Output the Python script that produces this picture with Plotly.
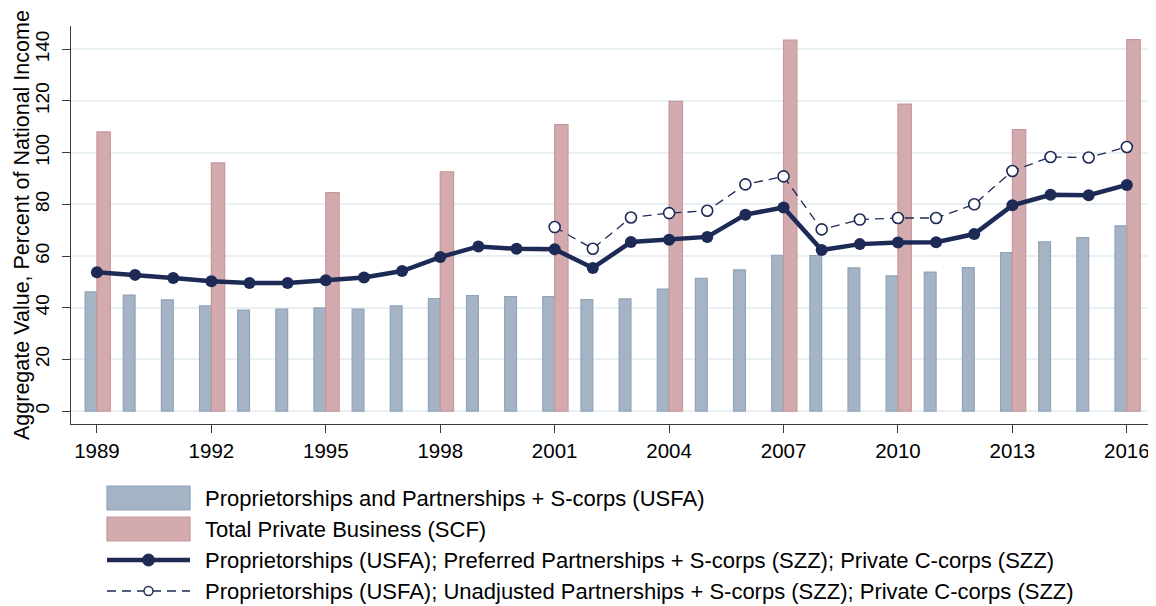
import plotly.graph_objects as go

# ---------------- data ----------------
years = list(range(1989, 2017))
usfa_values = [46.1, 44.9, 43.0, 40.7, 39.1, 39.5, 39.9, 39.5, 40.7, 43.5,
               44.7, 44.3, 44.3, 43.1, 43.4, 47.2, 51.4, 54.6, 60.3, 60.2,
               55.4, 52.3, 53.8, 55.5, 61.3, 65.5, 67.1, 71.7]
scf_years = [1989, 1992, 1995, 1998, 2001, 2004, 2007, 2010, 2013, 2016]
scf_values = [108.0, 96.0, 84.5, 92.6, 110.8, 119.8, 143.5, 118.8, 108.9, 143.7]
preferred_values = [53.7, 52.7, 51.5, 50.2, 49.6, 49.6, 50.6, 51.7, 54.2, 59.6,
                    63.7, 62.8, 62.6, 55.4, 65.4, 66.3, 67.4, 76.0, 78.8, 62.3,
                    64.6, 65.2, 65.3, 68.5, 79.6, 83.7, 83.5, 87.5]
unadj_years = list(range(2001, 2017))
unadj_values = [71.2, 62.8, 74.9, 76.6, 77.5, 87.7, 90.8, 70.3, 74.1, 74.7,
                74.7, 80.0, 92.9, 98.3, 98.1, 102.2]

x_tick_labels = [1989, 1992, 1995, 1998, 2001, 2004, 2007, 2010, 2013, 2016]
y_tick_labels = [0, 20, 40, 60, 80, 100, 120, 140]

legend_labels = [
    "Proprietorships and Partnerships + S-corps (USFA)",
    "Total Private Business (SCF)",
    "Proprietorships (USFA); Preferred Partnerships + S-corps (SZZ); Private C-corps (SZZ)",
    "Proprietorships (USFA); Unadjusted Partnerships + S-corps (SZZ); Private C-corps (SZZ)",
]

# ---------------- style ----------------
FONT = "Liberation Sans, Arial, Helvetica, sans-serif"
BLUE_FILL = "#a4b4c5"
BLUE_LINE = "#8fa3b9"
PINK_FILL = "#d3abaf"
PINK_LINE = "#c7959a"
NAVY = "#1c2a55"
AXIS = "#3a3a3a"
GRID = "#e9f0f3"

OFF = 8  # page body margin of the html
PAGE_W, PAGE_H = 1156, 606
W, H = PAGE_W - OFF, PAGE_H - OFF
# plot area in page pixels: x 71..1152, y 26..424
ML, MT = 71 - OFF, 26 - OFF
MR = PAGE_W - 1152
MB = PAGE_H - 424
PW = W - ML - MR
PH = H - MT - MB


def px_x(px):
    """page pixel x -> paper coordinate"""
    return (px - OFF - ML) / PW


def px_y(py):
    """page pixel y -> paper coordinate"""
    return (H - MB - (py - OFF)) / PH


fig = go.Figure()

fig.add_trace(go.Bar(
    x=years, y=usfa_values, width=0.31, offset=-0.31,
    marker=dict(color=BLUE_FILL, line=dict(color=BLUE_LINE, width=1.2)),
    name=legend_labels[0], showlegend=False,
))
fig.add_trace(go.Bar(
    x=scf_years, y=scf_values, width=0.35, offset=0.0,
    marker=dict(color=PINK_FILL, line=dict(color=PINK_LINE, width=1.2)),
    name=legend_labels[1], showlegend=False,
))
fig.add_trace(go.Scatter(
    x=unadj_years, y=unadj_values, mode="lines+markers",
    line=dict(color=NAVY, width=1.3, dash="9px,6px"),
    marker=dict(symbol="circle", size=11, color="white",
                line=dict(color=NAVY, width=1.6)),
    name=legend_labels[3], showlegend=False,
))
fig.add_trace(go.Scatter(
    x=years, y=preferred_values, mode="lines+markers",
    line=dict(color=NAVY, width=4.5),
    marker=dict(symbol="circle", size=12, color=NAVY),
    name=legend_labels[2], showlegend=False,
))

# ---------------- legend (drawn below the plot) ----------------
shapes = []
annotations = []
sw_x0, sw_x1 = 107, 190
sw_mid = (sw_x0 + sw_x1) / 2
text_x = 203
rows = [498, 529, 560, 591]

for row_y, fill, edge in [(rows[0], BLUE_FILL, BLUE_LINE), (rows[1], PINK_FILL, PINK_LINE)]:
    shapes.append(dict(type="rect", xref="paper", yref="paper",
                       x0=px_x(sw_x0), x1=px_x(sw_x1),
                       y0=px_y(row_y + 12), y1=px_y(row_y - 12),
                       fillcolor=fill, line=dict(color=edge, width=1.2),
                       layer="above"))
shapes.append(dict(type="line", xref="paper", yref="paper",
                   x0=px_x(sw_x0), x1=px_x(sw_x1), y0=px_y(rows[2]), y1=px_y(rows[2]),
                   line=dict(color=NAVY, width=4.5)))
shapes.append(dict(type="circle", xref="paper", yref="paper",
                   xsizemode="pixel", ysizemode="pixel",
                   xanchor=px_x(sw_mid), yanchor=px_y(rows[2]),
                   x0=-6, x1=6, y0=-6, y1=6,
                   fillcolor=NAVY, line=dict(color=NAVY, width=1)))
shapes.append(dict(type="line", xref="paper", yref="paper",
                   x0=px_x(sw_x0), x1=px_x(sw_x1), y0=px_y(rows[3]), y1=px_y(rows[3]),
                   line=dict(color=NAVY, width=1.3, dash="9px,6px")))
shapes.append(dict(type="circle", xref="paper", yref="paper",
                   xsizemode="pixel", ysizemode="pixel",
                   xanchor=px_x(sw_mid), yanchor=px_y(rows[3]),
                   x0=-4.5, x1=4.5, y0=-4.5, y1=4.5,
                   fillcolor="white", line=dict(color=NAVY, width=1.4)))

for label, row_y in zip(legend_labels, rows):
    annotations.append(dict(text=label, xref="paper", yref="paper",
                            x=px_x(text_x), y=px_y(row_y),
                            xanchor="left", yanchor="middle", showarrow=False,
                            font=dict(family=FONT, size=22, color="black")))

# y axis title, centred on the plot height
annotations.append(dict(text="Aggregate Value, Percent of National Income",
                        xref="paper", yref="paper",
                        x=px_x(22), y=px_y(225), textangle=-90,
                        xanchor="center", yanchor="middle", showarrow=False,
                        font=dict(family=FONT, size=21.5, color="black")))

fig.update_layout(
    width=W, height=H,
    margin=dict(l=ML, r=MR, t=MT, b=MB, autoexpand=False),
    paper_bgcolor="white", plot_bgcolor="white",
    barmode="overlay",
    showlegend=False,
    font=dict(family=FONT, color="black"),
    shapes=shapes,
    annotations=annotations,
    xaxis=dict(
        range=[1988.32, 2016.66],
        tickmode="array", tickvals=x_tick_labels,
        ticktext=[str(v) for v in x_tick_labels],
        ticks="outside", ticklen=8, tickwidth=1.2, tickcolor=AXIS,
        showline=True, linecolor=AXIS, linewidth=1.4,
        showgrid=False, zeroline=False,
        tickfont=dict(family=FONT, size=20.5, color="black"),
    ),
    yaxis=dict(
        range=[-5, 149],
        tickmode="array", tickvals=y_tick_labels,
        ticktext=[str(v) for v in y_tick_labels],
        tickangle=-90,
        ticks="outside", ticklen=8, tickwidth=1.2, tickcolor=AXIS,
        showline=True, linecolor=AXIS, linewidth=1.4,
        showgrid=True, gridcolor=GRID, gridwidth=1.6,
        zeroline=False,
        ticklabelstandoff=5,
        tickfont=dict(family=FONT, size=19, color="black"),
    ),
)

fig.write_html("out.html")
